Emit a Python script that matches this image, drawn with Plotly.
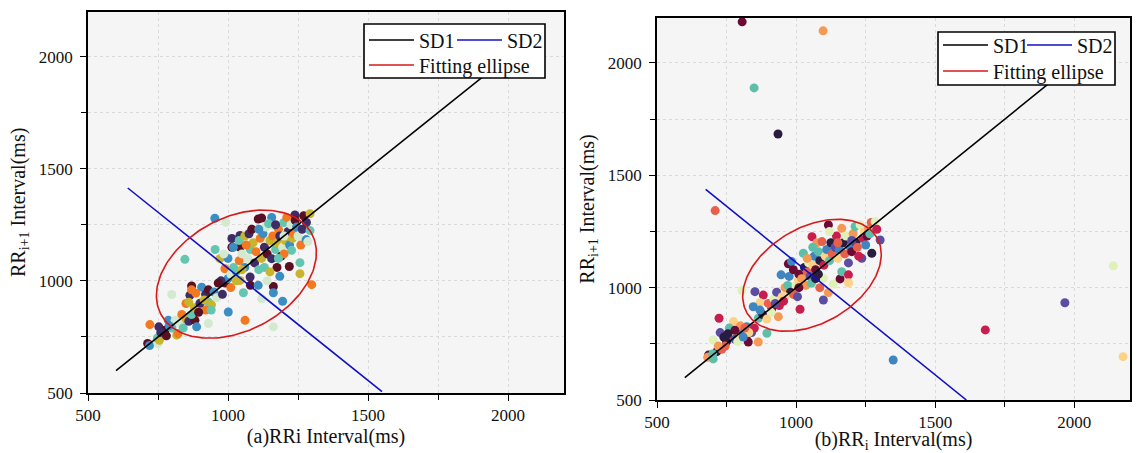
import numpy as np
import plotly.graph_objects as go

# ---------------- data ----------------
left_rr_i = [713,720,750,748,755,721,753,775,787,811,800,817,822,760,780,790,830,840,850,835,860,882,888,930,870,880,850,864,870,906,906,930,941,920,900,895,1001,799,846,860,885,920,930,950,960,940,915,870,980,990,
             953,992,954,971,989,1014,1014,1000,1010,1020,1030,1040,1043,1043,1019,1050,1055,1043,1061,1079,1080,1060,1070,1080,1090,1100,1095,1108,1108,1120,1110,1120,1115,1130,1140,1125,1135,1040,1060,1065,1075,1085,1000,985,1030,1050,1010,975,965,
             1156,1162,1145,1150,1160,1156,1162,1162,1162,1170,1175,1180,1185,1190,1195,1195,1200,1205,1210,1215,1219,1220,1225,1227,1230,1235,1239,1240,1245,1250,1257,1257,1260,1265,1270,1279,1285,1293,1293,1299,1280,1175,1185,1140,1130,1150,1200,1170,1120,1110,1200,1180]
left_rr_i1 = [721,712,720,745,735,805,795,780,824,824,790,758,765,770,755,800,810,790,830,850,820,824,795,810,850,880,899,936,977,972,884,906,893,870,900,860,861,939,1096,905,945,940,960,950,925,870,915,960,940,990,
              1279,1261,1140,1099,1054,1189,1150,1010,1030,1060,1000,1090,1202,1150,1150,1120,947,1002,824,1017,980,1060,1100,1140,1170,1130,1080,1276,980,920,1050,1100,1190,1150,1120,1210,1240,1180,1200,1160,1210,1230,1100,1120,1040,1050,970,1000,990,
              1283,1247,1255,1180,1200,1099,975,947,795,1140,1170,1230,1200,1110,909,1150,1260,1180,1283,1220,1064,1160,1250,1136,1190,1210,1294,1270,1240,1200,1081,1032,1160,1230,1290,1184,1175,1224,1299,983,1260,1060,1020,1000,1060,1040,1120,1250,1280,1230,1200,1100]

right_rr_i = [806,1097,849,935,709,2140,1966,1680,2175,1349,
              685,682,702,715,733,702,727,723,775,822,828,864,895,740,760,770,780,790,800,810,820,800,760,750,745,790,840,850,830,810,780,720,700,755,815,
              805,852,882,870,846,913,936,864,880,900,920,930,940,950,946,972,960,970,980,990,1000,1005,1014,1008,984,1010,1020,1026,1030,1040,1045,1050,1057,1060,1065,1070,1075,1080,1085,1093,1098,1098,1100,1105,1110,1116,1116,1120,1125,1130,1134,1140,1145,1150,1155,1158,1164,1164,1170,1175,1180,1188,1188,1188,1195,1200,1205,1212,1215,1220,1230,1236,1240,1245,1250,1255,1260,1265,1272,1270,1284,1302,1290,
              960,975,990,1035,1055,1070,1085,910,925,955,895,870,1010,1040,1060,1080,1150,1120,1200,1225]
right_rr_i1 = [2183,2143,1889,1684,1343,1097,933,812,693,678,
               700,690,683,715,726,767,800,864,849,826,758,758,797,780,790,800,770,810,790,800,780,830,820,760,740,760,800,820,800,780,810,740,705,795,820,
               987,982,967,933,915,908,871,864,880,930,950,980,920,960,1057,1106,1000,1010,980,970,1010,960,904,1034,1116,1060,1040,1153,1090,1070,1110,1050,1227,1100,1140,1080,1200,1160,1120,1205,1042,945,1100,1140,1170,1279,978,1120,1200,1150,1016,1180,1230,1130,1170,1039,1264,1071,1200,1150,1230,1110,1057,1022,1180,1160,1240,1272,1200,1180,1280,1131,1220,1250,1190,1230,1260,1240,1153,1290,1294,1212,1260,
               960,1050,1080,1010,1020,1040,1000,890,930,940,860,900,1000,1130,1180,1060,1200,1250,1210,1140]

# fitted lines / ellipse parameters (data units)
left_sd1 = dict(x=[600, 2100], y=[600, 2100])
left_sd2 = dict(x=[642, 1550], y=[1414, 506])
left_ellipse = dict(cx=1030, cy=1030, a=330, b=233, angle=45)
right_sd1 = dict(x=[600, 2100], y=[600, 2100])
right_sd2 = dict(x=[675, 1612], y=[1437, 500])
right_ellipse = dict(cx=1057, cy=1055, a=292, b=197, angle=45)

left_palette = ["#5b0f22", "#f2791f", "#62c6b0", "#3b8ec4", "#3f2c66", "#c8b52c", "#d3ead0"]
right_palette = ["#6a0a35", "#c81e4e", "#e8604c", "#f59a55", "#fcd289", "#dff0b8", "#5dbfaa",
                 "#3f86c0", "#5b4ea2", "#2a1c40"]

FONT = "Liberation Serif, Times New Roman, serif"


def ellipse_xy(p, n=200):
    t = np.linspace(0, 2 * np.pi, n)
    th = np.deg2rad(p["angle"])
    x = p["cx"] + p["a"] * np.cos(t) * np.cos(th) - p["b"] * np.sin(t) * np.sin(th)
    y = p["cy"] + p["a"] * np.cos(t) * np.sin(th) + p["b"] * np.sin(t) * np.cos(th)
    return x, y


fig = go.Figure()


def add_panel(xs, ys, pal, sd1, sd2, ell, xa, ya, legs):
    cols = [pal[(i * 3) % len(pal)] for i in range(len(xs))]
    fig.add_trace(go.Scatter(x=xs, y=ys, mode="markers", xaxis=xa, yaxis=ya,
                             marker=dict(size=9, color=cols, line=dict(width=0)),
                             showlegend=False, hoverinfo="x+y"))
    ex, ey = ellipse_xy(ell)
    fig.add_trace(go.Scatter(x=sd1["x"], y=sd1["y"], mode="lines", xaxis=xa, yaxis=ya,
                             line=dict(color="black", width=1.6), name="SD1", legend=legs[0]))
    fig.add_trace(go.Scatter(x=sd2["x"], y=sd2["y"], mode="lines", xaxis=xa, yaxis=ya,
                             line=dict(color="#1010c8", width=1.6), name="SD2", legend=legs[1]))
    fig.add_trace(go.Scatter(x=ex, y=ey, mode="lines", xaxis=xa, yaxis=ya,
                             line=dict(color="#d8191c", width=1.6), name="Fitting ellipse", legend=legs[2]))


add_panel(left_rr_i, left_rr_i1, left_palette, left_sd1, left_sd2, left_ellipse, "x", "y",
          ["legend", "legend2", "legend3"])
add_panel(right_rr_i, right_rr_i1, right_palette, right_sd1, right_sd2, right_ellipse, "x2", "y2",
          ["legend4", "legend5", "legend6"])

W, H = 1138, 453


def px_x(p):
    return p / W


def px_y(p):
    return 1 - p / H


axis_common = dict(range=[500, 2200], tick0=500, dtick=500, ticks="outside", ticklen=6,
                   tickcolor="black", tickwidth=1.2, automargin=False,
                   showline=True, mirror=True, linecolor="black", linewidth=1.6,
                   showgrid=True, gridcolor="#dadada", griddash="3px,3px", gridwidth=1,
                   zeroline=False,
                   tickfont=dict(family=FONT, size=17, color="#111"),
                   minor=dict(dtick=250, tick0=500, ticks="outside", ticklen=5, tickcolor="black",
                              showgrid=True, gridcolor="#dadada", griddash="3px,3px", gridwidth=1),
                   )

leg_common = dict(orientation="h", bgcolor="rgba(0,0,0,0)", borderwidth=0,
                  font=dict(family=FONT, size=20, color="#111"), itemwidth=45,
                  xanchor="left", yanchor="middle", tracegroupgap=0)

fig.update_layout(
    width=W, height=H, margin=dict(l=0, r=0, t=0, b=0, autoexpand=False),
    paper_bgcolor="white", plot_bgcolor="#f5f5f5",
    font=dict(family=FONT, color="#111"),
    xaxis=dict(axis_common, domain=[px_x(88), px_x(564)], anchor="y",
               title=dict(text="(a)RRi Interval(ms)", font=dict(family=FONT, size=20), standoff=5)),
    yaxis=dict(axis_common, domain=[px_y(393), px_y(11.7)], anchor="x", ticklabelstandoff=4,
               title=dict(text="RR<sub>i+1</sub> Interval(ms)", font=dict(family=FONT, size=20), standoff=8)),
    xaxis2=dict(axis_common, domain=[px_x(657), px_x(1130)], anchor="y2",
                title=dict(text="(b)RR<sub>i</sub> Interval(ms)", font=dict(family=FONT, size=20), standoff=5)),
    yaxis2=dict(axis_common, domain=[px_y(400), px_y(18)], anchor="x2", ticklabelstandoff=4,
                title=dict(text="RR<sub>i+1</sub> Interval(ms)", font=dict(family=FONT, size=20), standoff=8)),
    legend=dict(leg_common, x=px_x(364), y=px_y(40)),
    legend2=dict(leg_common, x=px_x(452), y=px_y(40)),
    legend3=dict(leg_common, x=px_x(364), y=px_y(65)),
    legend4=dict(leg_common, x=px_x(938), y=px_y(45)),
    legend5=dict(leg_common, x=px_x(1022), y=px_y(45)),
    legend6=dict(leg_common, x=px_x(938), y=px_y(71)),
    shapes=[
        dict(type="rect", xref="paper", yref="paper", x0=px_x(364), x1=px_x(545), y0=px_y(78), y1=px_y(24),
             fillcolor="white", line=dict(color="black", width=1.6), layer="above"),
        dict(type="rect", xref="paper", yref="paper", x0=px_x(938), x1=px_x(1115), y0=px_y(85), y1=px_y(32),
             fillcolor="white", line=dict(color="black", width=1.6), layer="above"),
    ],
)

fig.write_html("out.html", config={"displayModeBar": False},
               post_script="document.body.style.margin='0';document.body.style.overflow='hidden';")
